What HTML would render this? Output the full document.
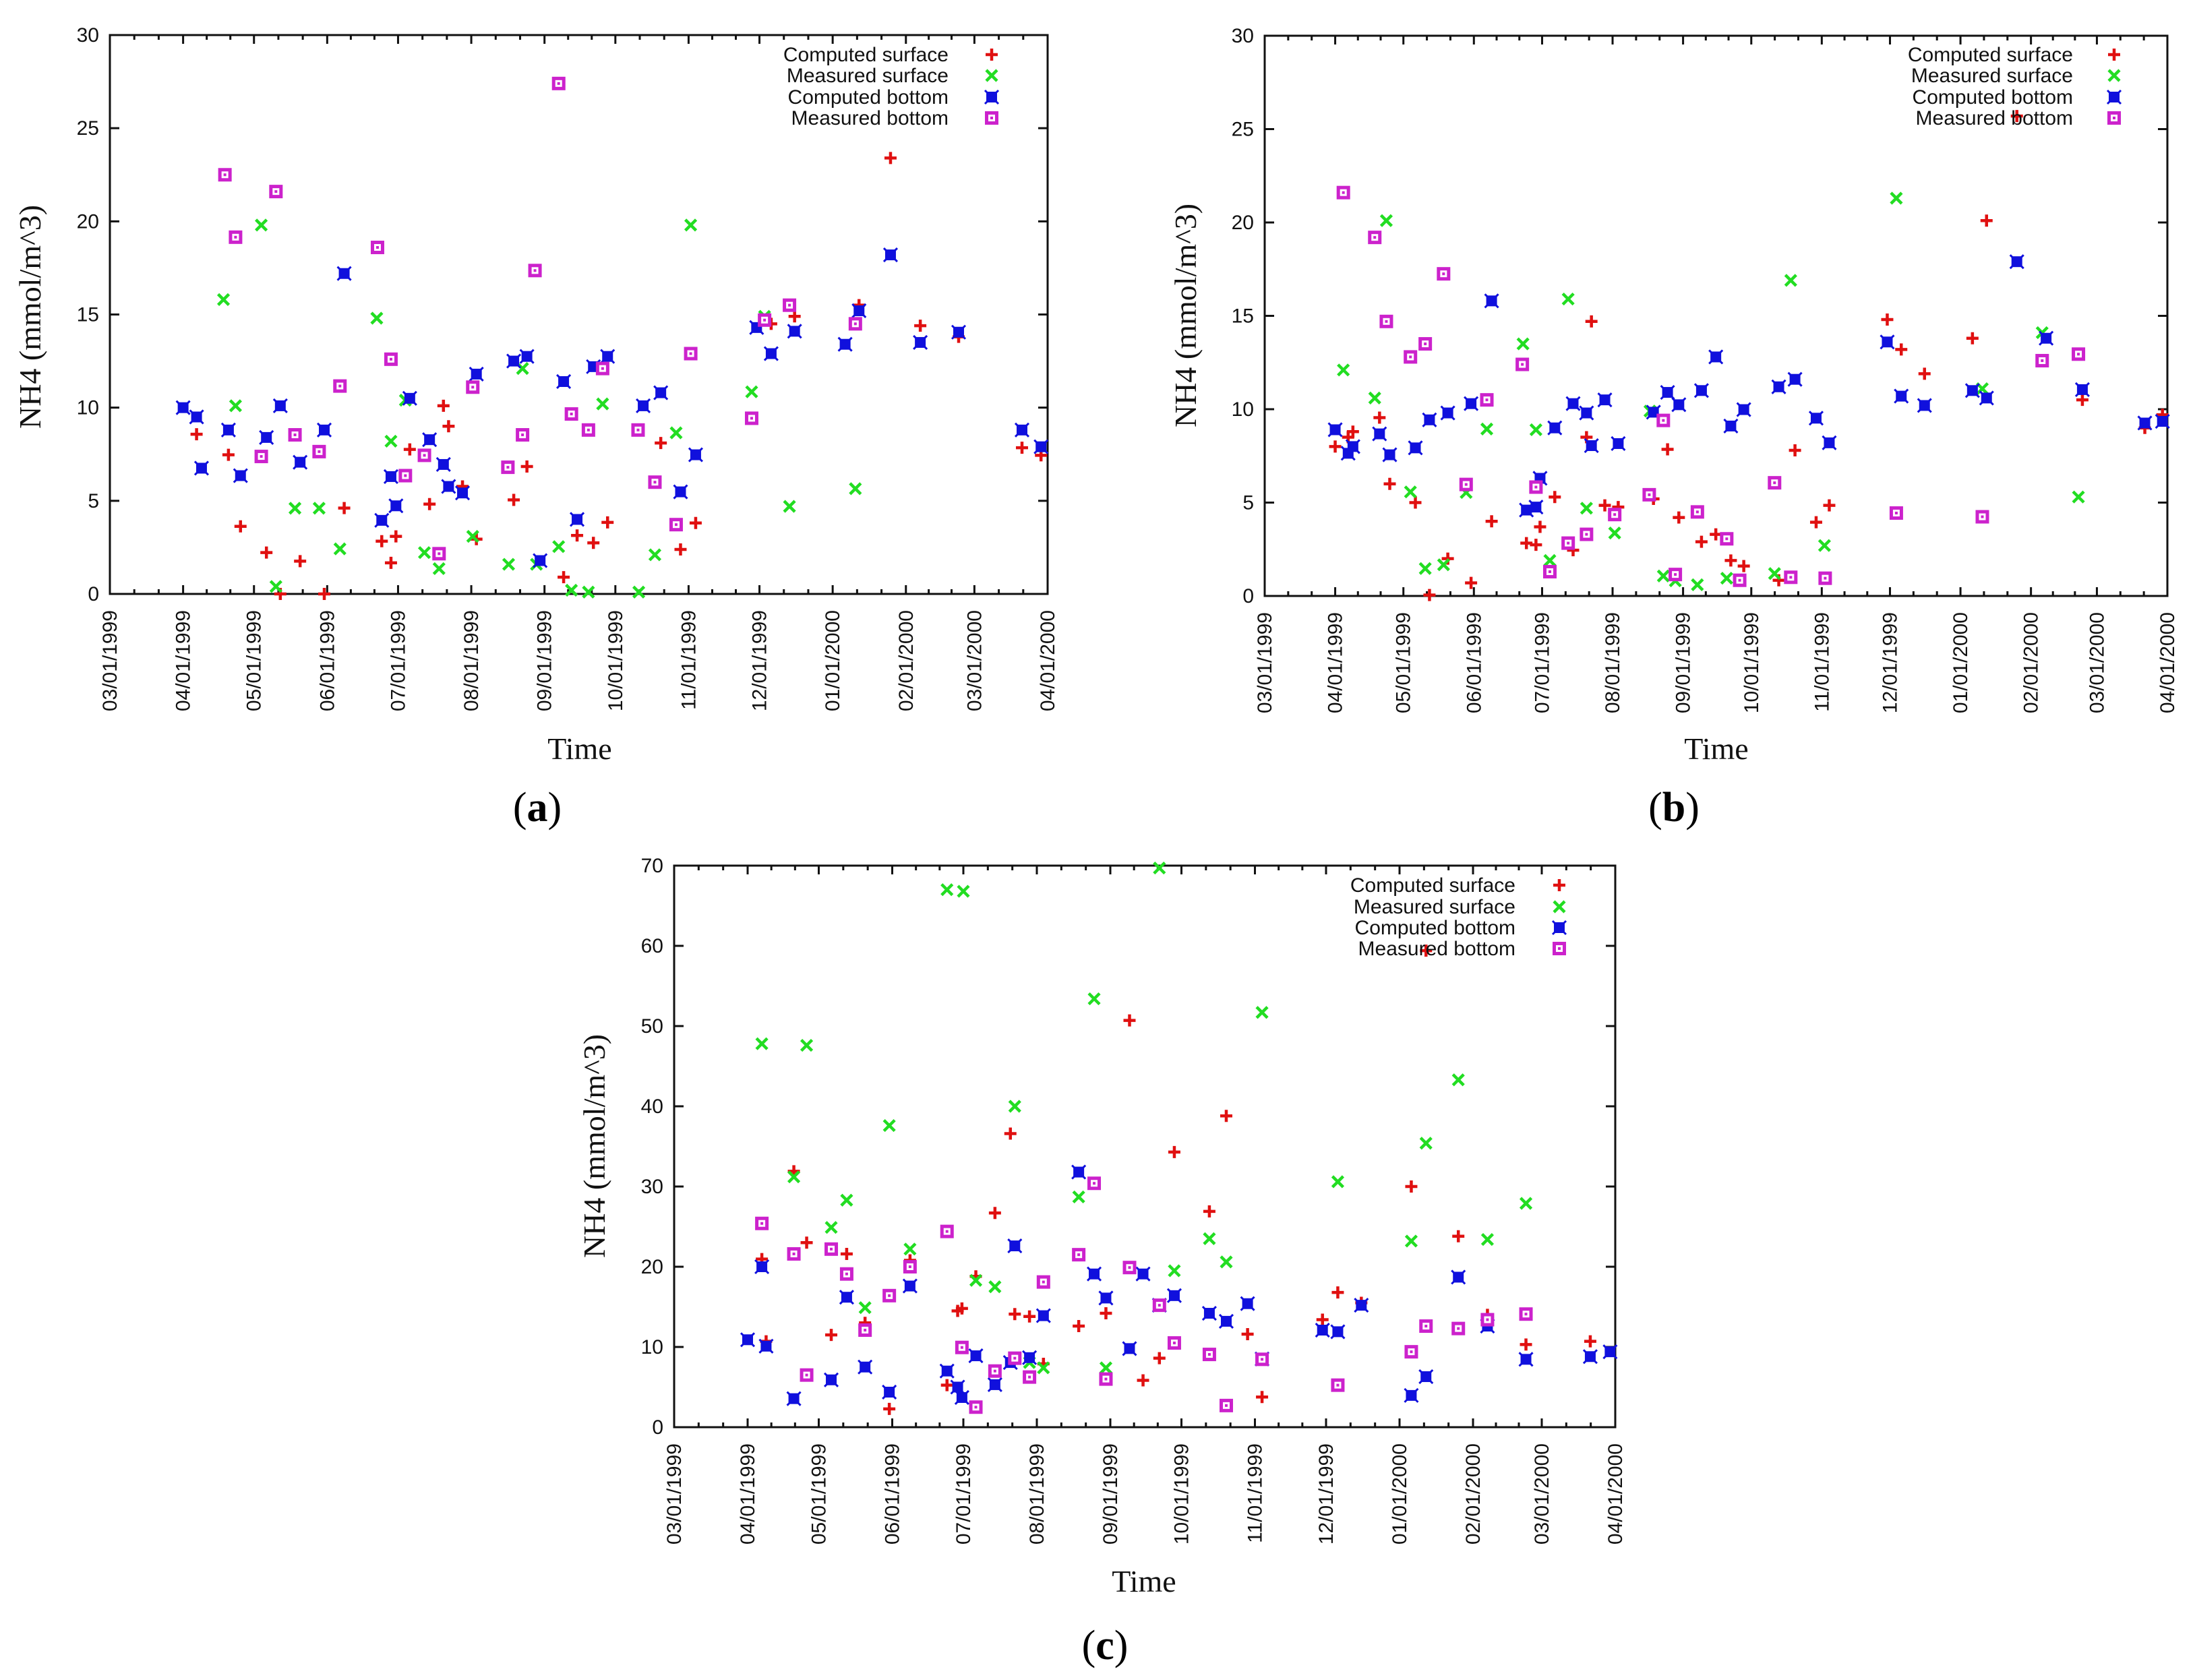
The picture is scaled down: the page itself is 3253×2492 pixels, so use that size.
<!DOCTYPE html>
<html><head><meta charset="utf-8"><style>
html,body{margin:0;padding:0;background:#fff;}
svg{display:block;}
</style></head><body>
<svg id="fig" xmlns="http://www.w3.org/2000/svg" width="3253" height="2492" viewBox="0 0 3253 2492"></svg>
<script>
// ---- shared axis data ----
const monthLabels = ["03/01/1999","04/01/1999","05/01/1999","06/01/1999","07/01/1999","08/01/1999","09/01/1999","10/01/1999","11/01/1999","12/01/1999","01/01/2000","02/01/2000","03/01/2000","04/01/2000"];
const monthStartDays = [0,31,61,92,122,153,184,214,245,275,306,337,366,397];
const yTicksAB = [0,5,10,15,20,25,30];
const yTicksC = [0,10,20,30,40,50,60,70];
const legendLabels = ["Computed surface","Measured surface","Computed bottom","Measured bottom"];

// ---- panel (a) data: [month index from 03/01/1999, NH4] ----
const aCompSurf = [[1.19,8.57],[1.64,7.47],[1.81,3.63],[2.17,2.22],[2.36,0],[2.63,1.76],[2.96,0],[3.24,4.61],[3.77,2.83],[3.90,1.67],[3.97,3.09],[4.16,7.76],[4.43,4.82],[4.62,10.1],[4.69,9.0],[4.88,5.77],[5.07,2.94],[5.58,5.05],[5.76,6.84],[6.27,0.9],[6.46,3.14],[6.69,2.74],[6.89,3.84],[7.62,8.1],[7.89,2.39],[8.10,3.81],[9.16,14.5],[9.48,14.9],[10.36,15.5],[10.79,23.4],[11.21,14.4],[11.77,13.8],[12.65,7.85],[12.91,7.44]];
const aMeasSurf = [[1.57,15.8],[1.74,10.1],[2.10,19.8],[2.30,0.4],[2.56,4.6],[2.89,4.6],[3.18,2.42],[3.70,14.8],[3.90,8.2],[4.10,10.4],[4.36,2.22],[4.56,1.36],[5.02,3.09],[5.51,1.59],[5.70,12.1],[5.89,1.59],[6.20,2.54],[6.38,0.2],[6.62,0.1],[6.82,10.2],[7.32,0.1],[7.54,2.1],[7.83,8.65],[8.03,19.8],[8.89,10.85],[9.07,14.9],[9.41,4.7],[10.31,5.65]];
const aCompBot = [[1.0,10.0],[1.19,9.5],[1.26,6.75],[1.64,8.8],[1.81,6.35],[2.17,8.4],[2.36,10.1],[2.63,7.07],[2.96,8.8],[3.24,17.2],[3.77,3.95],[3.90,6.3],[3.97,4.73],[4.16,10.5],[4.43,8.28],[4.62,6.95],[4.69,5.77],[4.88,5.42],[5.07,11.8],[5.58,12.5],[5.76,12.75],[5.94,1.79],[6.27,11.4],[6.46,4.0],[6.69,12.2],[6.89,12.75],[7.38,10.1],[7.62,10.8],[7.89,5.48],[8.10,7.47],[8.96,14.3],[9.16,12.9],[9.48,14.1],[10.17,13.4],[10.36,15.2],[10.79,18.2],[11.21,13.5],[11.77,14.05],[12.65,8.8],[12.91,7.9]];
const aMeasBot = [[1.59,22.5],[1.74,19.15],[2.10,7.38],[2.30,21.6],[2.56,8.54],[2.89,7.64],[3.18,11.16],[3.71,18.6],[3.90,12.6],[4.10,6.35],[4.36,7.44],[4.56,2.16],[5.02,11.1],[5.50,6.8],[5.70,8.54],[5.87,17.36],[6.20,27.4],[6.38,9.66],[6.62,8.8],[6.82,12.1],[7.31,8.8],[7.54,6.0],[7.83,3.72],[8.03,12.9],[8.89,9.43],[9.07,14.7],[9.41,15.5],[10.31,14.5]];

// ---- panel (b) data ----
const bCompSurf = [[1.0,8.0],[1.19,8.5],[1.26,8.8],[1.65,9.55],[1.80,6.0],[2.17,5.0],[2.37,0.05],[2.63,2.0],[2.96,0.7],[3.26,4.0],[3.77,2.83],[3.91,2.74],[3.97,3.7],[4.18,5.3],[4.44,2.45],[4.63,8.5],[4.70,14.7],[4.89,4.85],[5.08,4.76],[5.58,5.2],[5.78,7.85],[5.94,4.2],[6.27,2.9],[6.48,3.3],[6.70,1.9],[6.89,1.6],[7.39,0.84],[7.62,7.8],[7.92,3.95],[8.11,4.85],[8.96,14.8],[9.16,13.2],[9.49,11.9],[10.17,13.8],[10.37,20.1],[10.80,25.7],[11.78,10.5],[12.68,9.0],[12.93,9.7]];
const bMeasSurf = [[1.12,12.1],[1.58,10.6],[1.75,20.1],[2.10,5.57],[2.31,1.47],[2.57,1.67],[2.89,5.54],[3.19,8.94],[3.72,13.5],[3.91,8.9],[4.11,1.9],[4.37,15.9],[4.63,4.7],[5.03,3.37],[5.53,9.9],[5.72,1.07],[5.89,0.81],[6.21,0.6],[6.64,0.95],[7.33,1.2],[7.56,16.9],[8.04,2.7],[9.09,21.3],[10.31,11.1],[11.17,14.1],[11.72,5.3]];
const bCompBot = [[1.0,8.9],[1.19,7.64],[1.26,8.0],[1.65,8.68],[1.80,7.56],[2.17,7.93],[2.37,9.43],[2.63,9.8],[2.96,10.3],[3.26,15.8],[3.77,4.6],[3.91,4.76],[3.97,6.3],[4.18,9.0],[4.44,10.3],[4.63,9.8],[4.70,8.05],[4.89,10.5],[5.08,8.16],[5.58,9.84],[5.78,10.9],[5.94,10.24],[6.27,11.0],[6.48,12.8],[6.70,9.1],[6.89,9.98],[7.39,11.2],[7.62,11.6],[7.92,9.52],[8.11,8.2],[8.96,13.6],[9.16,10.7],[9.49,10.2],[10.17,11.0],[10.37,10.6],[10.80,17.9],[11.23,13.8],[11.78,11.05],[12.68,9.26],[12.93,9.35]];
const bMeasBot = [[1.12,21.6],[1.58,19.2],[1.75,14.7],[2.10,12.8],[2.31,13.5],[2.57,17.25],[2.89,5.97],[3.19,10.5],[3.71,12.4],[3.91,5.83],[4.11,1.3],[4.37,2.83],[4.63,3.3],[5.03,4.36],[5.52,5.42],[5.72,9.4],[5.89,1.15],[6.21,4.5],[6.64,3.06],[6.83,0.84],[7.33,6.06],[7.56,1.0],[8.05,0.95],[9.09,4.44],[10.31,4.24],[11.17,12.6],[11.72,12.95]];

// ---- panel (c) data ----
const cCompSurf = [[1.20,20.96],[1.26,10.7],[1.65,31.9],[1.83,23.0],[2.17,11.5],[2.38,21.6],[2.63,13.0],[2.96,2.28],[3.25,20.8],[3.77,5.24],[3.92,14.5],[3.98,14.8],[4.17,18.8],[4.43,26.7],[4.64,36.6],[4.70,14.1],[4.90,13.8],[5.09,7.9],[5.57,12.6],[5.94,14.2],[6.27,50.7],[6.46,5.84],[6.69,8.6],[6.90,34.3],[7.38,26.9],[7.61,38.8],[7.90,11.6],[8.10,3.76],[8.95,13.4],[9.16,16.8],[9.48,15.5],[10.16,30.0],[10.36,59.4],[10.80,23.8],[11.21,14.0],[11.77,10.3],[12.66,10.7]];
const cMeasSurf = [[1.20,47.8],[1.65,31.2],[1.83,47.6],[2.17,24.9],[2.38,28.3],[2.63,14.9],[2.96,37.6],[3.25,22.2],[3.77,67.0],[4.00,66.8],[4.17,18.3],[4.43,17.5],[4.70,40.0],[4.90,8.06],[5.09,7.4],[5.57,28.7],[5.78,53.4],[5.94,7.4],[6.69,69.7],[6.90,19.5],[7.38,23.5],[7.61,20.6],[8.10,51.7],[9.16,30.6],[10.16,23.2],[10.36,35.4],[10.80,43.3],[11.21,23.4],[11.77,27.9]];
const cCompBot = [[1.0,10.9],[1.20,20.0],[1.26,10.1],[1.65,3.56],[2.17,5.9],[2.38,16.2],[2.63,7.5],[2.96,4.37],[3.25,17.6],[3.77,7.0],[3.92,5.0],[3.98,3.7],[4.17,8.9],[4.43,5.3],[4.64,8.06],[4.70,22.6],[4.90,8.67],[5.09,13.9],[5.57,31.8],[5.78,19.1],[5.94,16.1],[6.27,9.8],[6.46,19.1],[6.69,15.2],[6.90,16.4],[7.38,14.2],[7.61,13.2],[7.90,15.4],[8.10,8.5],[8.95,12.1],[9.16,11.9],[9.48,15.2],[10.16,3.96],[10.36,6.3],[10.80,18.7],[11.21,12.6],[11.77,8.46],[12.66,8.8],[12.93,9.4]];
const cMeasBot = [[1.20,25.4],[1.65,21.6],[1.83,6.5],[2.17,22.2],[2.38,19.1],[2.63,12.1],[2.96,16.4],[3.25,20.0],[3.77,24.4],[3.98,9.94],[4.17,2.5],[4.43,7.0],[4.70,8.6],[4.90,6.25],[5.09,18.1],[5.57,21.5],[5.78,30.4],[5.94,6.0],[6.27,19.9],[6.69,15.2],[6.90,10.5],[7.38,9.07],[7.61,2.7],[8.10,8.46],[9.16,5.24],[10.16,9.4],[10.36,12.6],[10.80,12.3],[11.21,13.4],[11.77,14.1]];

const NS = "http://www.w3.org/2000/svg";
const fig = document.getElementById("fig");
function mk(tag, attrs, parent){
  const e = document.createElementNS(NS, tag);
  for (const k in attrs) e.setAttribute(k, attrs[k]);
  (parent||fig).appendChild(e);
  return e;
}
const COLORS = {cs:"#e01010", ms:"#22dd22", cb:"#1010dd", mb:"#cc22cc"};

function marker(g, kind, x, y){
  if (kind === "cs"){
    mk("path",{d:`M${x-9} ${y}H${x+9}M${x} ${y-9}V${y+9}`,stroke:COLORS.cs,"stroke-width":4.5,fill:"none"},g);
  } else if (kind === "ms"){
    mk("path",{d:`M${x-8} ${y-8}L${x+8} ${y+8}M${x-8} ${y+8}L${x+8} ${y-8}`,stroke:COLORS.ms,"stroke-width":4.5,fill:"none"},g);
  } else if (kind === "cb"){
    mk("rect",{x:x-8,y:y-8,width:16,height:16,fill:COLORS.cb},g);
    mk("path",{d:`M${x-10} ${y-10}L${x+10} ${y+10}M${x-10} ${y+10}L${x+10} ${y-10}`,stroke:COLORS.cb,"stroke-width":3,fill:"none"},g);
  } else {
    mk("rect",{x:x-10,y:y-10,width:20,height:20,fill:COLORS.mb},g);
    mk("rect",{x:x-5,y:y-5,width:10,height:10,fill:"#fff"},g);
    mk("rect",{x:x-2,y:y-2,width:4,height:4,fill:COLORS.mb},g);
  }
}

function drawPanel(p){
  const g = mk("g",{});
  
  
  const ymax = p.yTicks[p.yTicks.length-1];
  const totalDays = monthStartDays[monthStartDays.length-1];
  const xOfDay = d => p.L + (p.R-p.L)*d/totalDays;
  const xOfMonth = m => {
    const i = Math.min(Math.floor(m), 12);
    const d = monthStartDays[i] + (m - i)*(monthStartDays[i+1]-monthStartDays[i]);
    return xOfDay(d);
  };
  const yOf = v => p.B - (p.B-p.T)*v/ymax;
  const frame = mk("rect",{x:p.L,y:p.T,width:p.R-p.L,height:p.B-p.T,fill:"none",stroke:"#111","stroke-width":3},g);
  
  
  const yAxis = mk("g",{},g);
  
  
  p.yTicks.forEach(v=>{
    const y = yOf(v);
    mk("path",{d:`M${p.L} ${y}h14M${p.R} ${y}h-14`,stroke:"#111","stroke-width":3},yAxis);
    const t = mk("text",{x:p.L-16,y:y+10,"text-anchor":"end","font-family":"Liberation Sans, sans-serif","font-size":30,fill:"#111"},yAxis);
    t.textContent = v;
    
    
  });
  const xAxis = mk("g",{},g);
  
  
  monthStartDays.forEach((d,i)=>{
    const x = xOfDay(d);
    mk("path",{d:`M${x} ${p.B}v-13M${x} ${p.T}v13`,stroke:"#111","stroke-width":3},xAxis);
    if (i < monthStartDays.length-1){
      const span = monthStartDays[i+1]-d;
      [1,2].forEach(k=>{
        const xm = xOfDay(d + span*k/3);
        mk("path",{d:`M${xm} ${p.B}v-7M${xm} ${p.T}v7`,stroke:"#111","stroke-width":3},xAxis);
      });
    }
    const ty = p.B + 24;
    const t = mk("text",{x:x+10,y:ty,transform:`rotate(-90 ${x+10} ${ty})`,"text-anchor":"end","font-family":"Liberation Sans, sans-serif","font-size":30,fill:"#111"},xAxis);
    t.textContent = monthLabels[i];
    
    
  });
  const yt = mk("text",{x:p.ylx,y:p.yly,transform:`rotate(-90 ${p.ylx} ${p.yly})`,"text-anchor":"middle","font-family":"Liberation Serif, serif","font-size":46,fill:"#111"},g);
  yt.textContent = "NH4 (mmol/m^3)";
  
  
  const xt = mk("text",{x:p.tx,y:p.ty,"text-anchor":"middle","font-family":"Liberation Serif, serif","font-size":46,fill:"#111"},g);
  xt.textContent = "Time";
  
  
  const pl = mk("text",{x:p.lx,y:p.ly,"text-anchor":"middle","font-family":"Liberation Serif, serif","font-size":62,fill:"#000"},g);
  pl.innerHTML = '(<tspan font-weight="bold">'+p.letter+'</tspan>)';
  
  
  const kinds = ["cs","ms","cb","mb"];
  const series = [p.cs, p.ms, p.cb, p.mb];
  series.forEach((arr,si)=>{
    const sg = mk("g",{},g);
    
    
    arr.forEach(pt=>{
      marker(sg, kinds[si], xOfMonth(pt[0]), yOf(pt[1]));
    });
  });
  const lg = mk("g",{},g);
  
  
  legendLabels.forEach((lab,i)=>{
    const y = p.legY[i];
    const e = mk("g",{},lg);
    
    
    const t = mk("text",{x:p.legTx,y:y+10,"text-anchor":"end","font-family":"Liberation Sans, sans-serif","font-size":30,fill:"#111"},e);
    t.textContent = lab;
    marker(e, kinds[i], p.legMx, y);
  });
}

drawPanel({name:"panel-a",letter:"a",L:163,R:1554,T:52,B:881,yTicks:yTicksAB,
  cs:aCompSurf,ms:aMeasSurf,cb:aCompBot,mb:aMeasBot,
  ylx:60,yly:470,tx:860,ty:1126,lx:797,ly:1218,legTx:1407,legMx:1471,legY:[81,112,144,175]});
drawPanel({name:"panel-b",letter:"b",L:1876,R:3215,T:53,B:884,yTicks:yTicksAB,
  cs:bCompSurf,ms:bMeasSurf,cb:bCompBot,mb:bMeasBot,
  ylx:1774,yly:468,tx:2546,ty:1126,lx:2483,ly:1218,legTx:3075,legMx:3136,legY:[81,112,144,175]});
drawPanel({name:"panel-c",letter:"c",L:1000,R:2396,T:1284,B:2117,yTicks:yTicksC,
  cs:cCompSurf,ms:cMeasSurf,cb:cCompBot,mb:cMeasBot,
  ylx:897,yly:1700,tx:1697,ty:2361,lx:1639,ly:2461,legTx:2248,legMx:2313,legY:[1313,1345,1376,1407]});
</script>
</body></html>
